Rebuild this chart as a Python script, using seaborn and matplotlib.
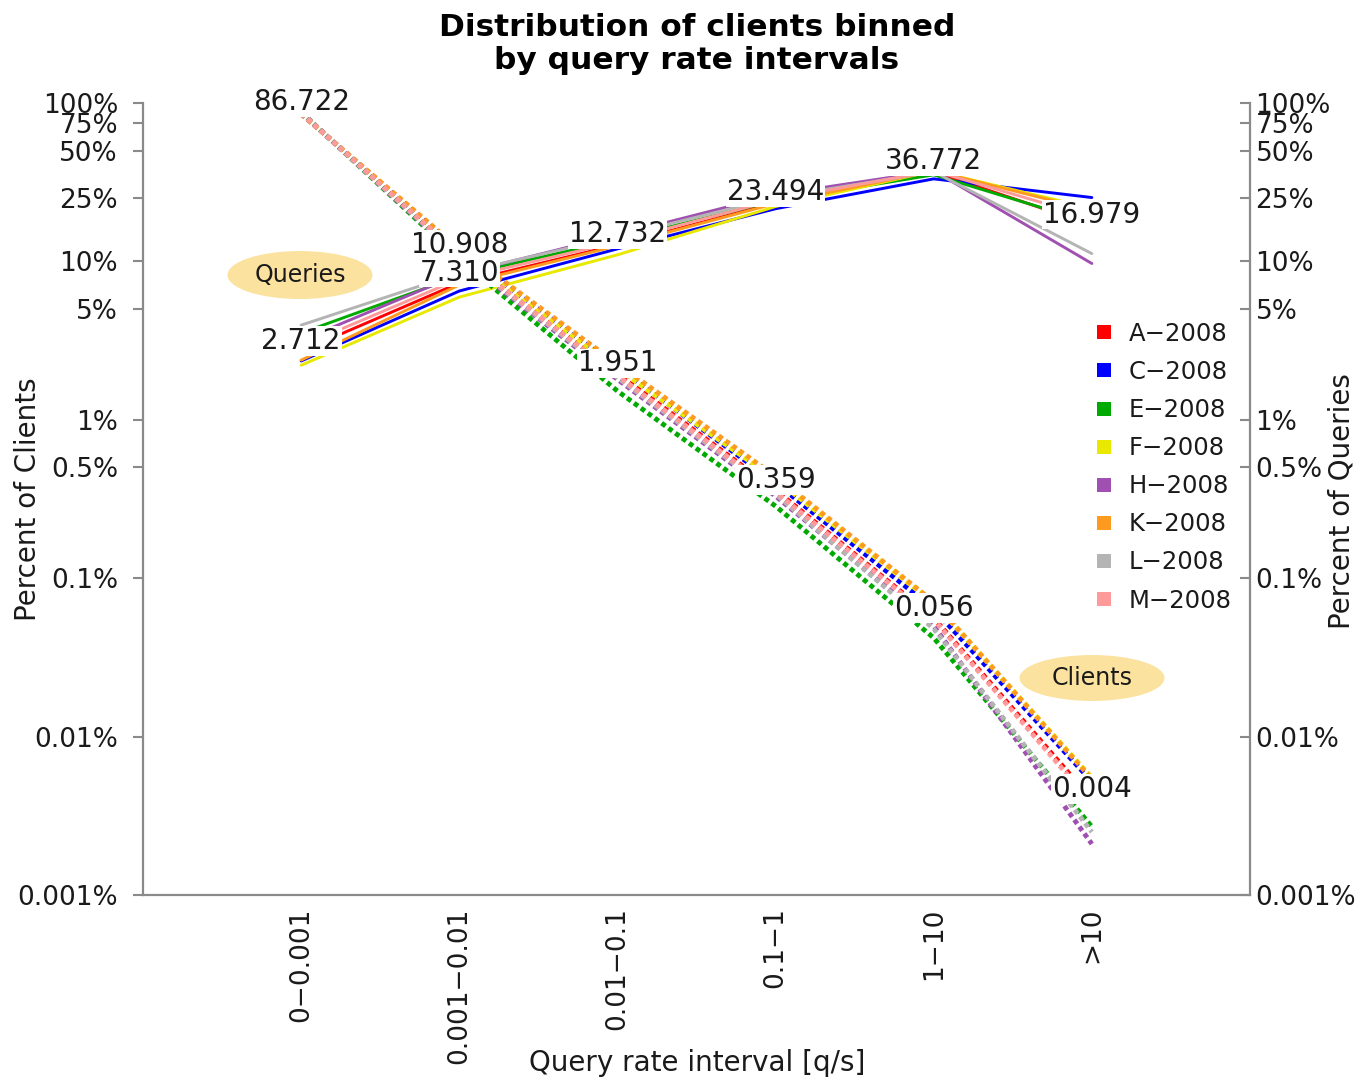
import numpy as np
import pandas as pd
import matplotlib
matplotlib.use("Agg")
import matplotlib.pyplot as plt
from matplotlib.patches import Ellipse
from matplotlib.lines import Line2D
from matplotlib.ticker import NullLocator
import seaborn as sns

# ---- data -------------------------------------------------------------
intervals = ["0\u22120.001", "0.001\u22120.01", "0.01\u22120.1",
             "0.1\u22121", "1\u221210", ">10"]
servers = ["A\u22122008", "C\u22122008", "E\u22122008", "F\u22122008",
           "H\u22122008", "K\u22122008", "L\u22122008", "M\u22122008"]
colors = ["#FF0000", "#0000FF", "#00AA00", "#E8E800",
          "#A050B0", "#FF9A20", "#B4B4B4", "#FF9A9A"]

# percent of clients falling in each query-rate interval
clients_A = [86.722, 10.908, 1.951, 0.359, 0.056, 0.004]
clients_C = [85.5, 11.6, 2.15, 0.40, 0.064, 0.0052]
clients_E = [87.5, 10.3, 1.52, 0.285, 0.042, 0.0027]
clients_F = [86.0, 11.3, 2.10, 0.42, 0.070, 0.0055]
clients_H = [87.0, 10.6, 1.80, 0.33, 0.050, 0.0021]
clients_K = [85.0, 12.0, 2.25, 0.44, 0.071, 0.0054]
clients_L = [86.5, 10.8, 1.85, 0.34, 0.048, 0.0025]
clients_M = [86.3, 11.0, 1.90, 0.35, 0.055, 0.0038]

# percent of queries sent by the clients of each interval
queries_A = [2.712, 7.310, 12.732, 23.494, 36.772, 16.979]
queries_C = [2.35, 6.5, 12.0, 21.5, 33.2, 25.3]
queries_E = [3.53, 8.1, 13.7, 24.2, 35.2, 17.5]
queries_F = [2.21, 5.95, 11.0, 22.2, 37.3, 21.6]
queries_H = [3.17, 8.3, 14.7, 26.4, 37.3, 9.7]
queries_K = [2.38, 7.1, 12.55, 23.2, 37.3, 21.0]
queries_L = [3.96, 8.45, 14.3, 25.3, 36.8, 11.2]
queries_M = [2.92, 7.75, 13.3, 24.5, 37.3, 19.0]

# values printed on the chart (A-2008)
client_labels = clients_A
query_labels = queries_A

y_ticks = [100, 75, 50, 25, 10, 5, 1, 0.5, 0.1, 0.01, 0.001]
y_ticklabels = ["100%", "75%", "50%", "25%", "10%", "5%", "1%",
                "0.5%", "0.1%", "0.01%", "0.001%"]

clients = [clients_A, clients_C, clients_E, clients_F,
           clients_H, clients_K, clients_L, clients_M]
queries = [queries_A, queries_C, queries_E, queries_F,
           queries_H, queries_K, queries_L, queries_M]


def long_frame(series):
    rows = []
    for name, vals in zip(servers, series):
        for i, v in enumerate(vals):
            rows.append({"pos": i, "server": name, "pct": v})
    return pd.DataFrame(rows)


df_clients = long_frame(clients)
df_queries = long_frame(queries)

# ---- style ------------------------------------------------------------
sns.set_style("white")
plt.rcParams["font.family"] = ["DejaVu Sans"]
axis_grey = "#8A8A8A"
text_col = "#1A1A1A"

W, H = 1371, 1082
fig = plt.figure(figsize=(W / 100, H / 100), dpi=100)
ax = fig.add_axes([143 / W, 1 - 895 / H, 1107 / W, 792 / H])
ax.set_yscale("log")

# queries: solid lines
sns.lineplot(data=df_queries, x="pos", y="pct", hue="server",
             hue_order=servers, palette=colors, lw=2.1, legend=False,
             ax=ax, sort=False, zorder=2)
# clients: thick dotted lines
sns.lineplot(data=df_clients, x="pos", y="pct", hue="server",
             hue_order=servers, palette=colors, lw=3.5,
             linestyle=(0, (1, 0.75)), legend=False, ax=ax, sort=False,
             zorder=3)

ax.set_xlim(-1, len(intervals))
ax.set_ylim(0.001, 100)
ax.set_xticks(range(len(intervals)))
ax.set_xticklabels(intervals, rotation=90)
ax.set_yticks(y_ticks)
ax.set_yticklabels(y_ticklabels)
ax.yaxis.set_minor_locator(NullLocator())

for s in ("top", "right"):
    ax.spines[s].set_visible(False)
for s in ("left", "bottom"):
    ax.spines[s].set_color(axis_grey)
    ax.spines[s].set_linewidth(1.6)

ax.tick_params(axis="y", which="major", direction="out", length=7,
               width=1.5, color=axis_grey, labelsize=19, pad=11,
               labelcolor=text_col)
ax.tick_params(axis="x", which="major", direction="out", length=6,
               width=1.5, color=axis_grey, labelsize=19, pad=3,
               labelcolor=text_col)

ax2 = ax.twinx()
ax2.set_yscale("log")
ax2.set_ylim(ax.get_ylim())
ax2.set_yticks(y_ticks)
ax2.set_yticklabels(y_ticklabels)
ax2.yaxis.set_minor_locator(NullLocator())
for s in ("top", "left", "bottom"):
    ax2.spines[s].set_visible(False)
ax2.spines["right"].set_color(axis_grey)
ax2.spines["right"].set_linewidth(1.6)
ax2.tick_params(axis="y", which="major", direction="in", length=7,
                width=1.5, color=axis_grey, labelsize=19, pad=4,
                labelcolor=text_col)

# axis titles
ax.set_xlabel("Query rate interval [q/s]", fontsize=20, color=text_col)
ax.xaxis.label.set_verticalalignment("center")
ax.xaxis.set_label_coords(0.5005, -0.212)
ax.set_ylabel("Percent of Clients", fontsize=20, color=text_col)
ax.yaxis.label.set_verticalalignment("center")
ax.yaxis.set_label_coords(-0.1039, 0.5)
ax2.set_ylabel("Percent of Queries", fontsize=20, color=text_col)
ax2.yaxis.label.set_verticalalignment("center")
ax2.yaxis.set_label_coords(1.0831, 0.497)

# value labels above the points
box = dict(facecolor="white", edgecolor="none", pad=0.6)
for i, v in enumerate(client_labels):
    ax.annotate(f"{v:.3f}", (i, v), xytext=(0, 7.5), textcoords="offset points",
                ha="center", va="center", fontsize=20, color=text_col,
                bbox=box, zorder=6)
for i, v in enumerate(query_labels):
    ax.annotate(f"{v:.3f}", (i, v), xytext=(0, 7.5), textcoords="offset points",
                ha="center", va="center", fontsize=20, color=text_col,
                bbox=box, zorder=7)

# series tags
tag_fill = "#FBE29F"
for (cx, cy, w, h, txt) in [(0.1418, 0.7828, 0.131, 0.0606, "Queries"),
                            (0.8573, 0.274, 0.131, 0.058, "Clients")]:
    ax.add_patch(Ellipse((cx, cy), w, h, transform=ax.transAxes,
                         facecolor=tag_fill, edgecolor="none", zorder=8))
    ax.text(cx, cy, txt, transform=ax.transAxes, ha="center", va="center",
            fontsize=17, color=text_col, zorder=9)

# legend
handles = [Line2D([], [], marker="s", linestyle="none", markersize=10,
                  markeredgewidth=0, color=c) for c in colors]
leg = fig.legend(handles, servers, loc="upper left",
                 bbox_to_anchor=(1070 / W, 1 - 300 / H), frameon=False,
                 fontsize=17.5, handlelength=1.0, handletextpad=0.5,
                 labelspacing=0.58, borderpad=0.4)
for t in leg.get_texts():
    t.set_color(text_col)

fig.text(0.5084, 1 - 44 / H,
         "Distribution of clients binned\nby query rate intervals",
         ha="center", va="center", fontsize=22.5, fontweight="bold",
         color="black", linespacing=1.15)

fig.savefig("out.png", dpi=100, facecolor="white")
